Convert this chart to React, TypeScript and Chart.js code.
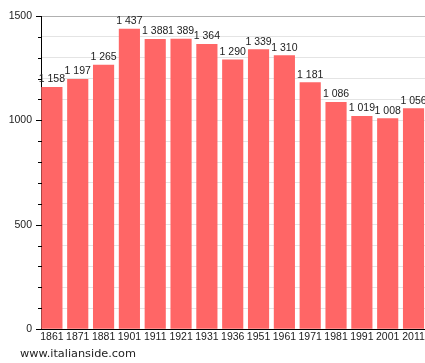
import React, { useEffect, useRef } from "react";
import { Chart, registerables } from "chart.js";

Chart.register(...registerables);

const years = ["1861", "1871", "1881", "1901", "1911", "1921", "1931", "1936", "1951", "1961", "1971", "1981", "1991", "2001", "2011"];
const population = [1158, 1197, 1265, 1437, 1388, 1389, 1364, 1290, 1339, 1310, 1181, 1086, 1019, 1008, 1056];
const yMax = 1500;
const yStep = 100;
const yLabelStep = 500;
const watermark = "www.italianside.com";

const fmt = (v: number) => {
  const s = String(v);
  return s.replace(/\B(?=(\d{3})+(?!\d))/g, " ");
};

const FONT = "'Liberation Sans', Arial, sans-serif";

export default function App() {
  const ref = useRef<HTMLCanvasElement>(null);
  useEffect(() => {
    document.body.style.margin = "0";
    const canvas = ref.current!;
    const valueLabels = {
      id: "valueLabels",
      afterDatasetsDraw(chart: any) {
        const ctx = chart.ctx;
        const meta = chart.getDatasetMeta(0);
        ctx.save();
        ctx.font = `10.5px ${FONT}`;
        ctx.fillStyle = "#222";
        ctx.textAlign = "center";
        ctx.textBaseline = "alphabetic";
        meta.data.forEach((bar: any, i: number) => {
          ctx.fillText(fmt(population[i]), bar.x, bar.y - 5);
        });
        ctx.restore();
      },
    };
    const yTicks = {
      id: "yTicks",
      afterDraw(chart: any) {
        const ctx = chart.ctx;
        const ys = chart.scales.y;
        const left = chart.chartArea.left;
        ctx.save();
        ctx.strokeStyle = "#000";
        ctx.lineWidth = 1;
        ys.ticks.forEach((t: any) => {
          const py = Math.round(ys.getPixelForValue(t.value)) + 0.5;
          const len = t.value % yLabelStep === 0 ? 5 : 3;
          ctx.beginPath();
          ctx.moveTo(left - len, py);
          ctx.lineTo(left + 1, py);
          ctx.stroke();
        });
        ctx.font = `11.3px 'DejaVu Sans', Verdana, sans-serif`;
        ctx.fillStyle = "#222";
        ctx.textAlign = "left";
        ctx.textBaseline = "alphabetic";
        ctx.fillText(watermark, 20, 357);
        ctx.restore();
      },
    };
    const chart = new Chart(canvas, {
      type: "bar",
      data: {
        datasets: [
          {
            data: population.map((v, i) => ({ x: i, y: v })),
            backgroundColor: "#ff6666",
            borderWidth: 0,
            barThickness: 20.5,
          },
        ],
      },
      options: {
        animation: false,
        responsive: false,
        events: [],
        layout: { padding: { top: 16, right: 0, left: 0, bottom: 0 } },
        plugins: { legend: { display: false }, tooltip: { enabled: false } },
        scales: {
          x: {
            type: "linear",
            offset: false,
            min: -0.422,
            max: 14.444,
            afterBuildTicks: (scale: any) => {
              scale.ticks = years.map((_, i) => ({ value: i }));
            },
            afterFit: (scale: any) => {
              scale.height = 34;
              scale.paddingLeft = 0;
              scale.paddingRight = 0;
            },
            ticks: {
              autoSkip: false,
              maxRotation: 0,
              padding: 2,
              color: "#222",
              font: { family: FONT, size: 10.5 },
              callback: (v: any) => years[v as number] ?? "",
            },
            grid: { display: false, drawTicks: false, offset: false },
            border: { display: true, color: "#000", width: 1 },
          },
          y: {
            min: 0,
            max: yMax,
            afterFit: (scale: any) => {
              scale.width = 41;
              scale.paddingTop = 0;
              scale.paddingBottom = 0;
            },
            ticks: {
              stepSize: yStep,
              autoSkip: false,
              padding: 9,
              color: "#222",
              font: { family: FONT, size: 10.5 },
              callback: (v: any) => ((v as number) % yLabelStep === 0 ? String(v) : ""),
            },
            grid: {
              drawTicks: false,
              color: (c: any) => (c.tick && c.tick.value === yMax ? "#b0b0b0" : "#e4e4e4"),
            },
            border: { display: true, color: "#000", width: 1 },
          },
        },
      },
      plugins: [valueLabels, yTicks],
    } as any);
    return () => chart.destroy();
  }, []);
  return <canvas ref={ref} width={425} height={363} style={{ display: "block" }} />;
}
